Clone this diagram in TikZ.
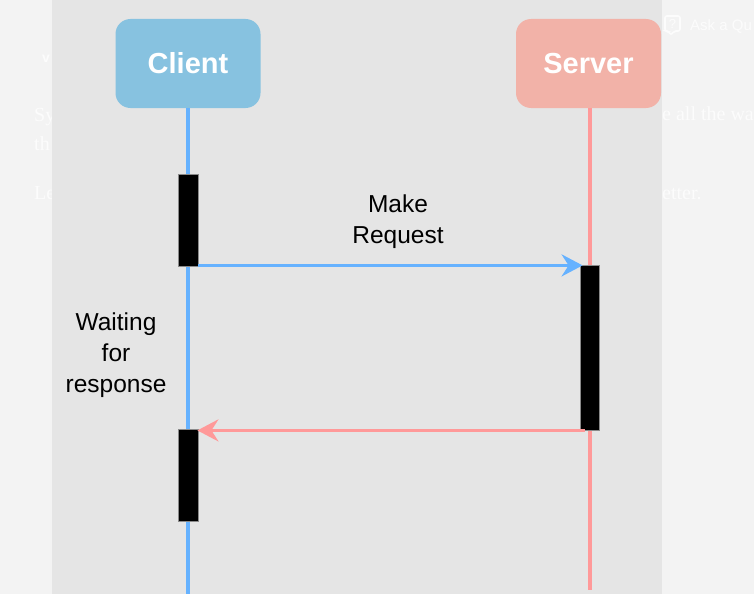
\documentclass[tikz,border=0pt]{standalone}
\usepackage{fontspec}
\setmainfont{Liberation Sans}
\newfontfamily\bgserif{Liberation Serif}
\usetikzlibrary{arrows.meta}

\definecolor{pagebg}{HTML}{F3F3F3}
\definecolor{panelbg}{HTML}{E5E5E5}
\definecolor{pagetext}{HTML}{FCFCFC}
\definecolor{clientfill}{HTML}{87C2E0}
\definecolor{serverfill}{HTML}{F2B2A8}
\definecolor{clientline}{HTML}{66B2FF}
\definecolor{serverline}{HTML}{FF9999}
\definecolor{barframe}{HTML}{8A8A8A}

\tikzset{
  headbox/.style={rounded corners=15pt, minimum width=145pt, minimum height=89pt,
    inner sep=0pt, text=white, font=\fontsize{29}{35}\selectfont\bfseries},
  actbar/.style={fill=black, draw=barframe, line width=0.8pt, minimum width=20pt,
    inner sep=0pt},
  clientlife/.style={draw=clientline, line width=3.2pt},
  serverlife/.style={draw=serverline, line width=3.2pt},
  msgtip/.style={-{Stealth[length=21pt, width=22pt, inset=7pt]}},
  msgtext/.style={align=center, inner sep=0pt,
    font=\fontsize{24.5}{31}\selectfont},
  pageline/.style={text=pagetext, anchor=base west, inner sep=0pt,
    font=\bgserif\fontsize{20}{24}\selectfont},
}

\begin{document}
\begin{tikzpicture}[x=1pt, y=-1pt]
\useasboundingbox (0,0) rectangle (754,594);

% page behind the diagram panel
\begin{scope}
  \clip (0,0) rectangle (754,594);
  \fill[pagebg] (0,0) rectangle (754,594);
  \node[text=pagetext, font=\bfseries\fontsize{14}{14}\selectfont, inner sep=0pt]
    (chev) at (46,59) {v};
  \node[pageline] (l1a) at (34,121) {Sy};
  \node[pageline] (l2a) at (34,150) {th};
  \node[pageline] (l3a) at (34,199) {Le};
  \node[pageline] (l1b) at (662,120) {e all the wa};
  \node[pageline] (l3b) at (662,199) {etter.};
  % "ask" icon: speech bubble with a question mark
  \draw[pagetext, line width=1.6pt, rounded corners=2pt]
    (665,16) -- (680,16) -- (680,31) -- (674,31) -- (671,35) -- (668,31)
    -- (665,31) -- cycle;
  \node[text=pagetext, font=\fontsize{13}{13}\selectfont, inner sep=0pt]
    (qm) at (672.5,23.5) {?};
  \node[text=pagetext, anchor=base west, inner sep=0pt,
    font=\fontsize{15}{15}\selectfont] (ask) at (690,31) {Ask a Qu};
  % diagram panel
  \fill[panelbg] (52,0) rectangle (662,594);
\end{scope}

% participants
\node[headbox, fill=clientfill] (client) at (188,63.5) {Client};
\node[headbox, fill=serverfill] (server) at (588.5,63.5) {Server};

% lifelines
\coordinate (cend) at (188,594);
\coordinate (send) at (590,590);
\draw[clientlife] (client.south) -- (client.south |- cend);
\draw[serverlife] (server.south -| send) -- (send);

% activation bars
\node[actbar, minimum height=92pt] (cb1) at (188,220) {};
\node[actbar, minimum height=165pt, minimum width=19pt] (sb) at (589.5,347.5) {};
\node[actbar, minimum height=92pt] (cb2) at (188,475) {};

% messages
\draw[clientlife, msgtip, shorten >=-3pt]
  ([yshift=1pt]cb1.south east) -- ([yshift=1pt]cb1.south east -| sb.west);
\draw[serverlife, msgtip, shorten >=-1pt]
  ([xshift=-5pt]sb.south) -- (sb.south -| cb2.east);

% labels
\node[msgtext] (req) at (398,222) {Make\\Request};
\node[msgtext] (wait) at (116,355) {Waiting\\for\\response};
\end{tikzpicture}
\end{document}
